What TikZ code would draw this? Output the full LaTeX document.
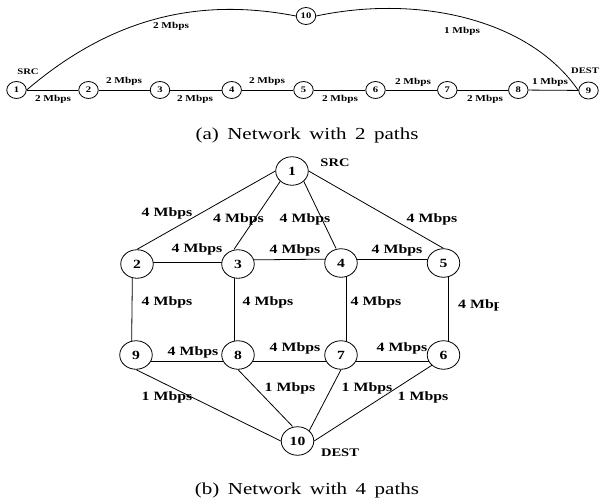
\documentclass[tikz,border=0pt]{standalone}
\usepackage{fontspec}
\setmainfont{Liberation Serif}[FakeStretch=1.25]
\usetikzlibrary{shapes.geometric,backgrounds}

% caption line with wider word spaces
\newcommand{\capline}[1]{{\spaceskip=8.5pt\relax #1}}

\tikzset{
  nodeA/.style={ellipse, draw, fill=white, line width=0.8pt, minimum width=19.5pt,
    minimum height=17pt, inner sep=0pt, font=\fontsize{8.5}{9}\selectfont\bfseries},
  nodeB/.style={ellipse, draw, fill=white, line width=0.8pt, minimum width=32.5pt,
    minimum height=28.5pt, inner sep=0pt, font=\fontsize{12.5}{13}\selectfont\bfseries},
  lblA/.style={inner sep=0pt, font=\fontsize{9}{10}\selectfont\bfseries},
  tagA/.style={inner sep=0pt, font=\fontsize{8.5}{9}\selectfont\bfseries},
  lblB/.style={inner sep=0pt, font=\fontsize{12.7}{14}\selectfont\bfseries},
  tagB/.style={inner sep=0pt, font=\fontsize{11.6}{13}\selectfont\bfseries},
  link/.style={line width=0.8pt},
  capt/.style={inner sep=0pt, anchor=base, font=\fontsize{16.8}{18}\selectfont},
}

\begin{document}
\begin{tikzpicture}[x=1pt, y=-1pt]
\useasboundingbox (0,0) rectangle (600,498);

% ---------- (a) two paths ----------
\node[nodeA] (a1) at (16.5,90) {1};
\node[nodeA] (a2) at (88.5,90) {2};
\node[nodeA] (a3) at (160,90) {3};
\node[nodeA] (a4) at (231.7,90) {4};
\node[nodeA] (a5) at (303.5,90) {5};
\node[nodeA] (a6) at (375.5,90) {6};
\node[nodeA] (a7) at (447.3,90) {7};
\node[nodeA] (a8) at (518.3,90) {8};
\node[nodeA] (a9) at (588.5,90.5) {9};
\node[nodeA] (a10) at (306,16) {10};

\node[tagA] (srcA) at (28,72) {SRC};
\node[tagA] (destA) at (585,71) {DEST};

\node[lblA] (la12) at (53,99) {2 Mbps};
\node[lblA] (la23) at (124,81) {2 Mbps};
\node[lblA] (la34) at (195,99) {2 Mbps};
\node[lblA] (la45) at (267,81) {2 Mbps};
\node[lblA] (la56) at (340,99) {2 Mbps};
\node[lblA] (la67) at (413,82) {2 Mbps};
\node[lblA] (la78) at (485,99) {2 Mbps};
\node[lblA] (la89) at (550,82) {1 Mbps};
\node[lblA] (la110) at (171,26) {2 Mbps};
\node[lblA] (la109) at (462,31) {1 Mbps};

\node[capt] (capA) at (307,139) {\capline{(a) Network with 2 paths}};

% ---------- (b) four paths ----------
\node[nodeB] (b1) at (292,171) {1};
\node[nodeB] (b2) at (137,264) {2};
\node[nodeB] (b3) at (238,264) {3};
\node[nodeB] (b4) at (341,263) {4};
\node[nodeB] (b5) at (443.5,263) {5};
\node[nodeB] (b6) at (443.5,355) {6};
\node[nodeB] (b7) at (341,355) {7};
\node[nodeB] (b8) at (238,355) {8};
\node[nodeB] (b9) at (136,355) {9};
\node[nodeB] (b10) at (297.5,441) {10};

\node[tagB] (srcB) at (335,163) {SRC};
\node[tagB] (destB) at (340,453) {DEST};

\node[lblB] (lb12) at (167,213) {4 Mbps};
\node[lblB] (lb13) at (238.5,219) {4 Mbps};
\node[lblB] (lb14) at (305,219) {4 Mbps};
\node[lblB] (lb15) at (432,219) {4 Mbps};
\node[lblB] (lb23) at (197,249) {4 Mbps};
\node[lblB] (lb34) at (295,250) {4 Mbps};
\node[lblB] (lb45) at (397,250) {4 Mbps};
\node[lblB] (lb29) at (167,302) {4 Mbps};
\node[lblB] (lb38) at (268,302) {4 Mbps};
\node[lblB] (lb47) at (376,302) {4 Mbps};
\begin{scope}
  \clip (0,0) rectangle (498,498);
  \node[lblB] (lb56) at (483.5,305) {4 Mbps};
\end{scope}
\node[lblB] (lb98) at (193,352) {4 Mbps};
\node[lblB] (lb87) at (295,348) {4 Mbps};
\node[lblB] (lb76) at (402,348) {4 Mbps};
\node[lblB] (lb910) at (167,397) {1 Mbps};
\node[lblB] (lb810) at (290,388) {1 Mbps};
\node[lblB] (lb710) at (367,388) {1 Mbps};
\node[lblB] (lb610) at (423,397) {1 Mbps};

\node[capt] (capB) at (307,494) {\capline{(b) Network with 4 paths}};

% ---------- connectors, kept behind the filled nodes ----------
\begin{pgfonlayer}{background}
  \fill[white] (0,0) rectangle (600,498);

  % (a)
  \draw[link] (a1) -- (a2);
  \draw[link] (a2) -- (a3);
  \draw[link] (a3) -- (a4);
  \draw[link] (a4) -- (a5);
  \draw[link] (a5) -- (a6);
  \draw[link] (a6) -- (a7);
  \draw[link] (a7) -- (a8);
  \draw[link] (a8) -- (a9);
  \draw[link] (a1.east) .. controls (111,18) and (198,-3) .. (a10.west);
  \draw[link] (a10.east) .. controls (420,-6) and (530,20) .. (a9.west);

  % (b) from the source
  \draw[link] (b1.west) -- (b2.north);
  \draw[link] (b1.south west) -- ([xshift=-4pt]b3.north);
  \draw[link] (b1.south east) -- ([xshift=-5pt]b4.north);
  \draw[link] (b1.east) -- (b5.north);
  % (b) upper row
  \draw[link] ([yshift=2pt]b2.center) -- ([yshift=2pt]b3.center);
  \draw[link] ([yshift=4pt]b3.center) -- ([yshift=4pt]b4.center);
  \draw[link] ([yshift=4pt]b4.center) -- ([yshift=4pt]b5.center);
  % (b) verticals
  \draw[link] ([xshift=-4.5pt]b2.center) -- ([xshift=-4.5pt]b9.center);
  \draw[link] ([xshift=-4pt]b3.center) -- ([xshift=-4pt]b8.center);
  \draw[link] ([xshift=5pt]b4.center) -- ([xshift=5pt]b7.center);
  \draw[link] ([xshift=4.5pt]b5.center) -- ([xshift=4.5pt]b6.center);
  % (b) lower row
  \draw[link] ([yshift=-6pt]b9.center) -- ([yshift=-6pt]b8.center);
  \draw[link] ([yshift=-6pt]b8.center) -- ([yshift=-6pt]b7.center);
  \draw[link] ([yshift=-6pt]b7.center) -- ([yshift=-6pt]b6.center);
  % (b) to the destination
  \draw[link] (b9.south) -- (b10.west);
  \draw[link] (b8.south) -- ([xshift=-5pt]b10.north);
  \draw[link] (b7.south) -- (b10.north east);
  \draw[link] (b6.south west) -- (b10.east);
\end{pgfonlayer}
\end{tikzpicture}
\end{document}
